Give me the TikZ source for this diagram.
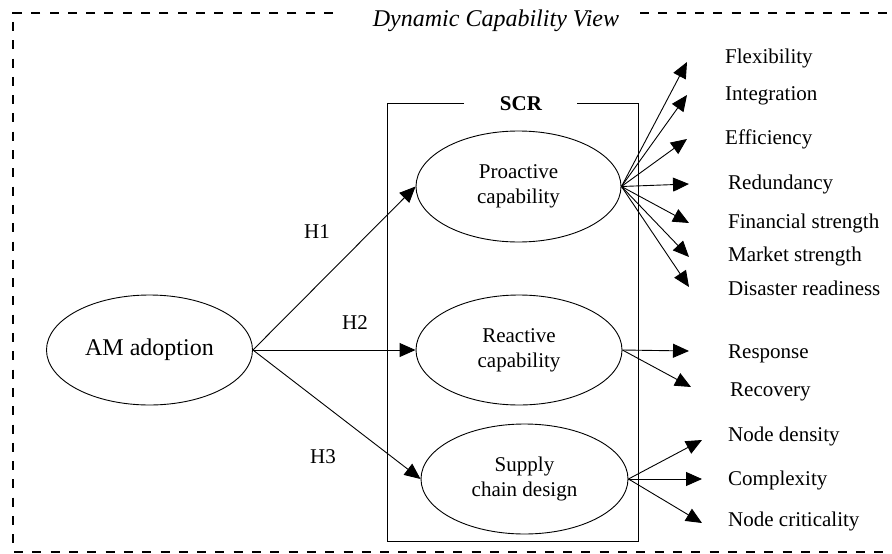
\documentclass[tikz,border=0pt]{standalone}
\usepackage{fontspec}
\setmainfont{Liberation Serif}
\usetikzlibrary{shapes.geometric, arrows.meta}

\begin{document}
\begin{tikzpicture}[x=1pt,y=-1pt,
  every node/.style={font=\fontsize{21}{25}\selectfont},
  oval/.style={draw, ellipse, line width=0.9pt, minimum width=206pt, minimum height=110pt, inner sep=0pt, align=center},
  conn/.style={line width=0.9pt, -{Triangle[length=16pt,width=14pt]}},
  lab/.style={anchor=west, text height=14pt, text depth=4pt, inner sep=0pt},
  frame/.style={line width=2pt, dash pattern=on 9pt off 9.3pt},
  boxline/.style={line width=1pt},
]
\useasboundingbox (0,0) rectangle (892,554);

% outer dashed frame
\draw[frame] (333,12.5) -- (13,12.5) -- (13,551.5) -- (892,551.5);
\draw[frame] (640,12.5) -- (892,12.5);
\node[font=\fontsize{24}{28}\selectfont\itshape] (title) at (496,21) {Dynamic Capability View};

% SCR box
\draw[boxline] (464,103) -- (387,103) -- (387,541) -- (638,541) -- (638,103) -- (577,103);
\node[font=\fontsize{21}{25}\selectfont\bfseries] (scr) at (521,104) {SCR};

% ellipses
\node[oval, font=\fontsize{24}{28}\selectfont] (am) at (149.5,350) {AM adoption};
\node[oval, minimum width=205pt, minimum height=111pt] (pro) at (518.5,186.5) {Proactive\\capability};
\node[oval] (rea) at (519,350) {Reactive\\capability};
\node[oval, minimum width=207pt] (scd) at (524.5,479) {Supply\\chain design};

% hypotheses
\draw[conn] (am.east) -- (pro.west);
\draw[conn] (am.east) -- (rea.west);
\draw[conn] (am.east) -- (scd.west);
\node (h1) at (317,232) {H1};
\node (h2) at (355,323) {H2};
\node (h3) at (323,457) {H3};

% proactive dimensions
\coordinate (p1) at (687,62);
\coordinate (p2) at (687,95);
\coordinate (p3) at (687,139);
\coordinate (p4) at (689,184);
\coordinate (p5) at (689,223);
\coordinate (p6) at (689,257);
\coordinate (p7) at (689,287);
\foreach \i in {1,...,7} {\draw[conn] (pro.east) -- (p\i);}
\node[lab] (l1) at (725,58) {Flexibility};
\node[lab] (l2) at (725,95) {Integration};
\node[lab] (l3) at (725,139) {Efficiency};
\node[lab] (l4) at (728,184) {Redundancy};
\node[lab] (l5) at (728,223) {Financial strength};
\node[lab] (l6) at (728,256) {Market strength};
\node[lab] (l7) at (728,290) {Disaster readiness};

% reactive dimensions
\coordinate (r1) at (689,351);
\coordinate (r2) at (691,387);
\draw[conn] (rea.east) -- (r1);
\draw[conn] (rea.east) -- (r2);
\node[lab] (m1) at (728,353) {Response};
\node[lab] (m2) at (730,391) {Recovery};

% supply chain design dimensions
\coordinate (s1) at (702,440);
\coordinate (s2) at (702,479);
\coordinate (s3) at (702,523);
\draw[conn] (scd.east) -- (s1);
\draw[conn] (scd.east) -- (s2);
\draw[conn] (scd.east) -- (s3);
\node[lab] (n1) at (728,436) {Node density};
\node[lab] (n2) at (728,480) {Complexity};
\node[lab] (n3) at (728,521) {Node criticality};
\end{tikzpicture}
\end{document}
